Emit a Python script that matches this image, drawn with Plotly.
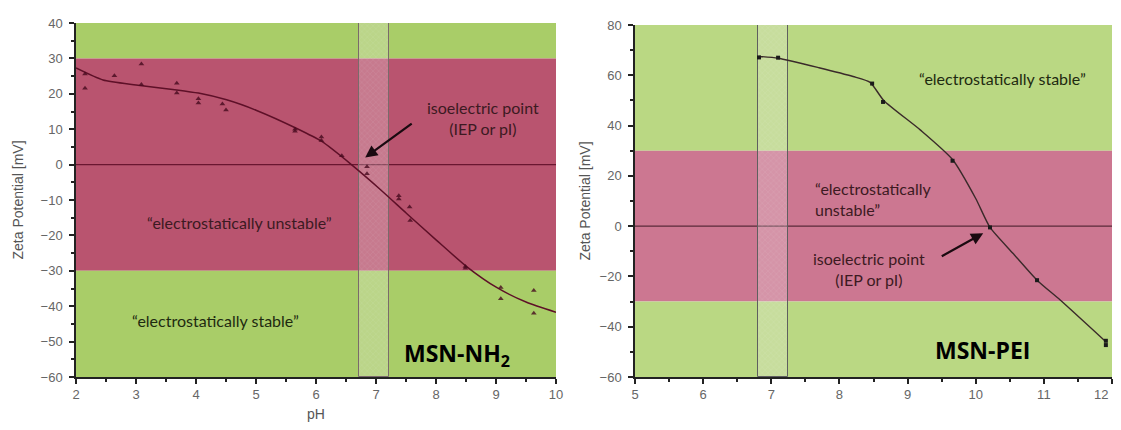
import plotly.graph_objects as go

# ---------------- data ----------------
# Left panel: MSN-NH2 (triangles)
nh2_ph = [2.15, 2.15, 2.64, 3.09, 3.09, 3.68, 3.68, 4.04, 4.04, 4.44, 4.50,
          5.65, 5.65, 6.09, 6.09, 6.43, 6.85, 6.85, 7.38, 7.38, 7.56, 7.57,
          8.49, 8.49, 9.08, 9.08, 9.63, 9.63]
nh2_mv = [25.6, 21.6, 25.1, 28.4, 22.6, 23.0, 20.2, 18.6, 17.4, 17.1, 15.4,
          9.4, 10.0, 7.8, 6.8, 2.5, -0.6, -2.6, -8.8, -9.7, -12.0, -15.8,
          -29.3, -28.8, -34.7, -37.9, -35.6, -42.0]
# fitted curve of the left panel
nh2_fit_ph = [2.0, 2.45, 3.0, 3.68, 4.04, 4.51, 5.01, 5.68, 6.09, 6.59, 7.09,
              7.51, 8.01, 8.51, 9.01, 9.51, 10.0]
nh2_fit_mv = [27.3, 23.9, 22.5, 21.1, 20.2, 18.3, 15.3, 10.2, 6.6, 0.0, -7.3,
              -13.8, -21.4, -28.8, -34.7, -38.9, -41.7]

# Right panel: MSN-PEI (squares)
pei_ph = [6.82, 7.10, 8.48, 8.64, 9.66, 10.21, 10.90, 11.91, 11.91]
pei_mv = [67.1, 67.0, 56.7, 49.4, 26.0, -0.5, -21.5, -45.6, -47.3]
pei_fit_ph = [6.82, 7.10, 7.70, 8.20, 8.45, 8.65, 9.19, 9.66, 10.00, 10.21,
              10.55, 10.90, 11.24, 11.91]
pei_fit_mv = [67.5, 66.8, 63.0, 59.5, 57.2, 50.0, 38.2, 26.5, 11.0, -0.5,
              -10.9, -21.5, -29.4, -46.0]

# zones and IEP bands
left_x_range = [2, 10]
left_y_range = [-60, 40]
right_x_range = [5, 12]
right_y_range = [-60, 80]
stable_limit = 30
left_iep_band = [6.72, 7.22]
right_iep_band = [6.80, 7.24]

x_ticks_left = [2, 3, 4, 5, 6, 7, 8, 9, 10]
y_ticks_left = [40, 30, 20, 10, 0, -10, -20, -30, -40, -50, -60]
x_ticks_right = [5, 6, 7, 8, 9, 10, 11, 12]
x_ticktext_right = ["5", "6", "7", "8", "9", "10", "11", "12"]
y_ticks_right = [80, 60, 40, 20, 0, -20, -40, -60]

# ---------------- styling ----------------
L_GREEN = "#a9cd68"
L_RED = "#b9546f"
R_GREEN = "#bad883"
R_RED = "#cc7791"
TXT = "#3c1a22"
FONT = "Lato, 'Open Sans', sans-serif"
AXFONT = "'Liberation Sans', Arial, sans-serif"

fig = go.Figure()

# IEP bands (hatched, translucent)
for band_x, xa, ya, yr, edge in [(left_iep_band, "x", "y", left_y_range, "#7a6a6a"),
                                 (right_iep_band, "x2", "y2", right_y_range, "#5f5f5f")]:
    fig.add_trace(go.Bar(
        x=[(band_x[0] + band_x[1]) / 2], y=[yr[1] - yr[0]], base=[yr[0]],
        width=[band_x[1] - band_x[0]], xaxis=xa, yaxis=ya, showlegend=False, hoverinfo="skip",
        marker=dict(color="rgba(240,235,235,0.30)", line=dict(color=edge, width=1),
                    pattern=dict(shape="x", size=4, solidity=0.15,
                                 fgcolor="rgba(255,255,255,0.35)",
                                 bgcolor="rgba(240,235,235,0.25)"))))

fig.add_trace(go.Scatter(x=nh2_fit_ph, y=nh2_fit_mv, mode="lines",
                         line=dict(color="#5e1028", width=1.5, shape="spline", smoothing=0.6),
                         xaxis="x", yaxis="y", showlegend=False, hoverinfo="skip"))
fig.add_trace(go.Scatter(x=nh2_ph, y=nh2_mv, mode="markers",
                         marker=dict(symbol="triangle-up", size=5, color="rgba(70,10,30,0.8)"),
                         xaxis="x", yaxis="y", showlegend=False))
fig.add_trace(go.Scatter(x=pei_fit_ph, y=pei_fit_mv, mode="lines",
                         line=dict(color="#3a2a2a", width=1.4, shape="spline", smoothing=0.6),
                         xaxis="x2", yaxis="y2", showlegend=False, hoverinfo="skip"))
fig.add_trace(go.Scatter(x=pei_ph, y=pei_mv, mode="markers",
                         marker=dict(symbol="square", size=4, color="#1a1a1a"),
                         xaxis="x2", yaxis="y2", showlegend=False, cliponaxis=False))

shapes = []
def band(xref, yref, x0, x1, y0, y1, color):
    shapes.append(dict(type="rect", xref=xref, yref=yref, x0=x0, x1=x1, y0=y0, y1=y1,
                       fillcolor=color, line=dict(width=0), layer="below"))

band("x", "y", left_x_range[0], left_x_range[1], stable_limit, left_y_range[1], L_GREEN)
band("x", "y", left_x_range[0], left_x_range[1], -stable_limit, stable_limit, L_RED)
band("x", "y", left_x_range[0], left_x_range[1], left_y_range[0], -stable_limit, L_GREEN)
band("x2", "y2", right_x_range[0], right_x_range[1], stable_limit, right_y_range[1], R_GREEN)
band("x2", "y2", right_x_range[0], right_x_range[1], -stable_limit, stable_limit, R_RED)
band("x2", "y2", right_x_range[0], right_x_range[1], right_y_range[0], -stable_limit, R_GREEN)

shapes.append(dict(type="line", xref="x", yref="y", x0=left_x_range[0], x1=left_x_range[1],
                   y0=0, y1=0, line=dict(color="#6a1630", width=1.3), layer="below"))
shapes.append(dict(type="line", xref="x2", yref="y2", x0=right_x_range[0], x1=right_x_range[1],
                   y0=0, y1=0, line=dict(color="#5a2a3a", width=1.2), layer="below"))

annotations = [
    dict(x=6.82, y=2.0, ax=7.62, ay=11.9, xref="x", yref="y", axref="x", ayref="y",
         text="", showarrow=True, arrowhead=2, arrowsize=1.1, arrowwidth=2.2, arrowcolor="#1a0a10"),
    dict(x=8.78, y=13.3, xref="x", yref="y", text="isoelectric point<br>(IEP or pI)",
         showarrow=False, font=dict(family=FONT, size=16, color=TXT), align="center"),
    dict(x=4.73, y=-16.4, xref="x", yref="y", text="“electrostatically unstable”",
         showarrow=False, font=dict(family=FONT, size=16, color=TXT)),
    dict(x=4.33, y=-44.0, xref="x", yref="y", text="“electrostatically stable”",
         showarrow=False, font=dict(family=FONT, size=16, color="#1e2a10")),
    dict(x=8.35, y=-53.6, xref="x", yref="y", text="<b>MSN-NH<sub>2</sub></b>",
         showarrow=False, font=dict(family="'Open Sans', sans-serif", size=23, color="#000000")),
    dict(x=10.11, y=-2.8, ax=9.48, ay=-12.3, xref="x2", yref="y2", axref="x2", ayref="y2",
         text="", showarrow=True, arrowhead=2, arrowsize=1.1, arrowwidth=2.2, arrowcolor="#1a0a10"),
    dict(x=8.44, y=-17.1, xref="x2", yref="y2", text="isoelectric point<br>(IEP or pI)",
         showarrow=False, font=dict(family=FONT, size=16, color=TXT), align="center"),
    dict(x=10.39, y=58.9, xref="x2", yref="y2", text="“electrostatically stable”",
         showarrow=False, font=dict(family=FONT, size=16, color="#1e2a10")),
    dict(x=7.61, y=10.9, xref="x2", yref="y2", text="“electrostatically<br>unstable”",
         showarrow=False, xanchor="left", align="left", font=dict(family=FONT, size=16, color=TXT)),
    dict(x=10.1, y=-49.3, xref="x2", yref="y2", text="<b>MSN-PEI</b>",
         showarrow=False, font=dict(family="'Open Sans', sans-serif", size=23, color="#000000")),
]

axis_common = dict(showgrid=False, zeroline=False, showline=True, linecolor="#222",
                   linewidth=1.5, ticks="outside", ticklen=5, tickcolor="#222", tickwidth=1.5,
                   tickfont=dict(family=AXFONT, size=13, color="#666"),
                   mirror=False, automargin=False, ticklabeloverflow="allow")

# the page places the figure 8 px from the window's top-left corner
W, H = 1105, 414
OFF = 8
def xd(a, b):
    return [(a - OFF) / W, (b - OFF) / W]
def yd(top, bottom):
    return [(H + OFF - bottom) / H, (H + OFF - top) / H]

# keep the last right-panel tick label inside the visible page
x_ticktext_right_shown = x_ticktext_right[:-1] + [x_ticktext_right[-1] + "\u00a0" * 6]

fig.update_layout(
    width=W, height=H, margin=dict(l=0, r=0, t=0, b=0, autoexpand=False),
    paper_bgcolor="white", plot_bgcolor="rgba(0,0,0,0)",
    showlegend=False, shapes=shapes, annotations=annotations, bargap=0,
    xaxis=dict(axis_common, domain=xd(76, 556), range=left_x_range,
               tickvals=x_ticks_left, minor=dict(dtick=0.5, ticks="outside", ticklen=3, tickcolor="#222"),
               anchor="y",
               title=dict(text="pH", font=dict(family=AXFONT, size=14, color="#555"),
                          standoff=12)),
    yaxis=dict(axis_common, domain=yd(23, 377), range=left_y_range,
               tickvals=y_ticks_left, minor=dict(dtick=5, ticks="outside", ticklen=3, tickcolor="#222"),
               anchor="x", ticklabelstandoff=4,
               title=dict(text="Zeta Potential [mV]",
                          font=dict(family=AXFONT, size=14, color="#555"),
                          standoff=14)),
    xaxis2=dict(axis_common, domain=xd(635, 1112), range=right_x_range,
                tickvals=x_ticks_right, ticktext=x_ticktext_right_shown,
                minor=dict(dtick=0.5, ticks="outside", ticklen=3, tickcolor="#222"),
                anchor="y2"),
    yaxis2=dict(axis_common, domain=yd(25, 377), range=right_y_range,
                tickvals=y_ticks_right, minor=dict(dtick=10, ticks="outside", ticklen=3, tickcolor="#222"),
                anchor="x2", ticklabelstandoff=4,
                title=dict(text="Zeta Potential [mV]",
                           font=dict(family=AXFONT, size=14, color="#555"),
                           standoff=6)),
)

fig.write_html("out.html")
